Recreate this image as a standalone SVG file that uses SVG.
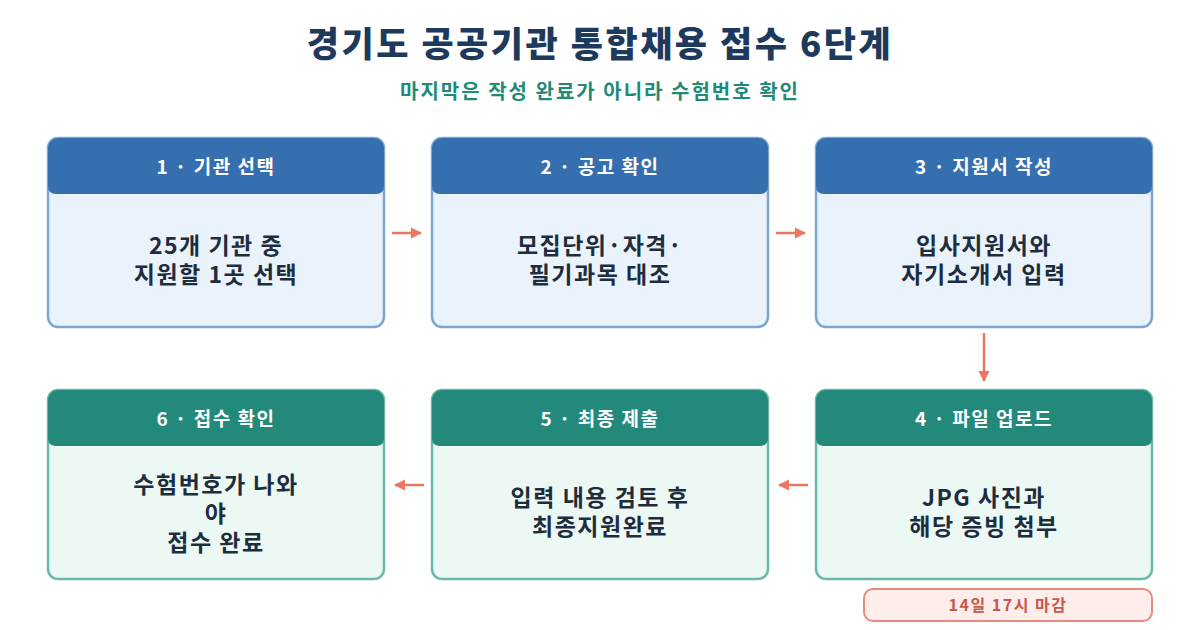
<svg xmlns="http://www.w3.org/2000/svg" width="1200" height="630" viewBox="0 0 1200 630">
<style>
text{font-family:"Noto Sans CJK KR","Noto Sans",sans-serif;text-anchor:middle;font-weight:700}
.title{font-size:35px;fill:#1d3a5c;letter-spacing:2.5px;font-weight:800}
.sub{font-size:20px;fill:#1f8a78;font-weight:600;letter-spacing:2px}
.bb{fill:#eaf3fc;stroke:#7aa6d2;stroke-width:2.5}
.bh{fill:#356fb0}
.gb{fill:#ebf8f4;stroke:#6bb8a8;stroke-width:2.5}
.gh{fill:#23897a}
.ht{font-size:19px;fill:#fff;letter-spacing:1.5px}
.bt{font-size:23px;fill:#1e2d3d;letter-spacing:1.5px}
.con{stroke:#ef7563;stroke-width:2.5;fill:none;marker-end:url(#ah)}
</style>
<defs>
<marker id="ah" viewBox="0 0 10 10" refX="9" refY="5" markerWidth="4.5" markerHeight="4.5" orient="auto"><path d="M0,0L10,5L0,10z" fill="#ef7563"/></marker>
</defs>
<rect width="1200" height="630" fill="#fff"/>
<text class="title" x="600" y="57">경기도 공공기관 통합채용 접수 6단계</text>
<text class="sub" x="600" y="99">마지막은 작성 완료가 아니라 수험번호 확인</text>

<g id="n1"><rect class="bb" x="48" y="138" width="336" height="189" rx="10"/><path class="bh" d="M58,138H374a10,10 0 0 1 10,10V186q0,8-8,8H56q-8,0-8-8V148a10,10 0 0 1 10-10z"/><text class="ht" x="216" y="174">1 · 기관 선택</text><text class="bt" x="216" y="254">25개 기관 중</text><text class="bt" x="216" y="283">지원할 1곳 선택</text></g>
<g id="n2"><rect class="bb" x="432" y="138" width="336" height="189" rx="10"/><path class="bh" d="M442,138H758a10,10 0 0 1 10,10V186q0,8-8,8H440q-8,0-8-8V148a10,10 0 0 1 10-10z"/><text class="ht" x="600" y="174">2 · 공고 확인</text><text class="bt" x="600" y="254">모집단위·자격·</text><text class="bt" x="600" y="283">필기과목 대조</text></g>
<g id="n3"><rect class="bb" x="816" y="138" width="336" height="189" rx="10"/><path class="bh" d="M826,138H1142a10,10 0 0 1 10,10V186q0,8-8,8H824q-8,0-8-8V148a10,10 0 0 1 10-10z"/><text class="ht" x="984" y="174">3 · 지원서 작성</text><text class="bt" x="984" y="254">입사지원서와</text><text class="bt" x="984" y="283">자기소개서 입력</text></g>
<g id="n4"><rect class="gb" x="816" y="390" width="336" height="189" rx="10"/><path class="gh" d="M826,390H1142a10,10 0 0 1 10,10V438q0,8-8,8H824q-8,0-8-8V400a10,10 0 0 1 10-10z"/><text class="ht" x="984" y="426">4 · 파일 업로드</text><text class="bt" x="984" y="506">JPG 사진과</text><text class="bt" x="984" y="535">해당 증빙 첨부</text></g>
<g id="n5"><rect class="gb" x="432" y="390" width="336" height="189" rx="10"/><path class="gh" d="M442,390H758a10,10 0 0 1 10,10V438q0,8-8,8H440q-8,0-8-8V400a10,10 0 0 1 10-10z"/><text class="ht" x="600" y="426">5 · 최종 제출</text><text class="bt" x="600" y="506">입력 내용 검토 후</text><text class="bt" x="600" y="535">최종지원완료</text></g>
<g id="n6"><rect class="gb" x="48" y="390" width="336" height="189" rx="10"/><path class="gh" d="M58,390H374a10,10 0 0 1 10,10V438q0,8-8,8H56q-8,0-8-8V400a10,10 0 0 1 10-10z"/><text class="ht" x="216" y="426">6 · 접수 확인</text><text class="bt" x="216" y="493">수험번호가 나와</text><text class="bt" x="216" y="522">야</text><text class="bt" x="216" y="551">접수 완료</text></g>
<g id="deadline"><rect x="864" y="589" width="288" height="32" rx="9" fill="#fdeeec" stroke="#e88a7c" stroke-width="2"/><text x="1008" y="611" font-size="16" fill="#c9574a" letter-spacing="1.5">14일 17시 마감</text></g>

<g id="connectors">
<path class="con" d="M392,233H421"/>
<path class="con" d="M776,233H805"/>
<path class="con" d="M984,333V381"/>
<path class="con" d="M808,485H779"/>
<path class="con" d="M424,485H395"/>
</g>
</svg>
